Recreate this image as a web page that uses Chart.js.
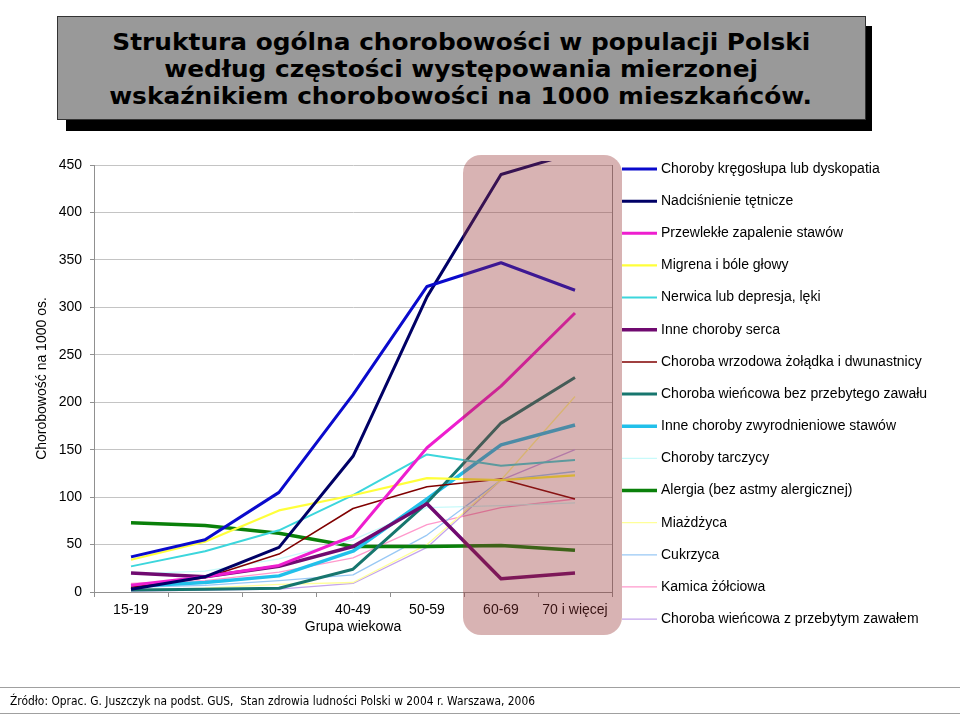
<!DOCTYPE html>
<html><head><meta charset="utf-8">
<script src="https://cdn.jsdelivr.net/npm/chart.js@4"></script>
<style>
html,body{margin:0;padding:0;background:#fff;}
#wrap{position:relative;width:960px;height:716px;overflow:hidden;font-family:"Liberation Sans",Arial,sans-serif;}
#c{position:absolute;left:0;top:0;}
#shadow{position:absolute;left:66px;top:26px;width:806px;height:105px;background:#000;}
#tbox{position:absolute;left:57px;top:16px;width:807px;height:102px;background:#999;border:1px solid #333;}
.tl{position:absolute;left:0;width:922px;text-align:center;white-space:nowrap;height:27px;line-height:27px;}
.tl span{display:inline-block;font:bold 23px "DejaVu Sans";color:#000;transform-origin:50% 50%;}
#foot{position:absolute;left:10px;top:692px;white-space:nowrap;line-height:16px;}
#foot span{display:inline-block;font:12px "DejaVu Sans";color:#000;transform-origin:0 50%;}
.hl{position:absolute;left:0;width:960px;height:1px;background:#a0a0a0;}
</style></head>
<body><div id="wrap">
<div id="shadow"></div>
<div id="tbox"></div>
<div class="tl" style="top:29px"><span class="fit" data-w="698">Struktura ogólna chorobowości w populacji Polski</span></div>
<div class="tl" style="top:56px"><span class="fit2">według częstości występowania mierzonej</span></div>
<div class="tl" style="top:83px"><span class="fit2">wskaźnikiem chorobowości na 1000 mieszkańców.</span></div>
<canvas id="c" width="960" height="716"></canvas>
<div class="hl" style="top:687px"></div>
<div id="foot"><span class="fitf" data-w="525">Źródło: Oprac. G. Juszczyk na podst. GUS,&nbsp; Stan zdrowia ludności Polski w 2004 r. Warszawa, 2006</span></div>
<div class="hl" style="top:713px"></div>
</div>
<script>
// ---- data ----
const categories = ['15-19','20-29','30-39','40-49','50-59','60-69','70 i więcej'];
const seriesLabels = [
  'Choroby kręgosłupa lub dyskopatia',
  'Nadciśnienie tętnicze',
  'Przewlekłe zapalenie stawów',
  'Migrena i bóle głowy',
  'Nerwica lub depresja, lęki',
  'Inne choroby serca',
  'Choroba wrzodowa żołądka i dwunastnicy',
  'Choroba wieńcowa bez przebytego zawału',
  'Inne choroby zwyrodnieniowe stawów',
  'Choroby tarczycy',
  'Alergia (bez astmy alergicznej)',
  'Miażdżyca',
  'Cukrzyca',
  'Kamica żółciowa',
  'Choroba wieńcowa z przebytym zawałem'
];
const kregoslup      = [37, 55, 105, 208, 322, 347, 318];
const nadcisnienie   = [3, 16, 47, 143, 311, 440, 463];
const przewlekle     = [7, 16, 28, 59, 152, 217, 294];
const migrena        = [34, 53, 86, 102, 120, 118, 123];
const nerwica        = [27, 43, 65, 102, 145, 133, 139];
const inneSerca      = [20, 16, 27, 48, 93, 14, 20];
const wrzodowa       = [5, 15, 40, 88, 111, 119, 98];
const wiencowaBez    = [2, 3, 4, 24, 94, 178, 226];
const zwyrodnieniowe = [6, 10, 17, 43, 98, 155, 176];
const tarczyca       = [19, 22, 35, 55, 89, 91, 94];
const alergia        = [73, 70, 62, 48, 48, 49, 44];
const miazdzyca      = [2, 4, 8, 10, 50, 118, 206];
const cukrzyca       = [5, 7, 12, 18, 60, 118, 127];
const kamica         = [9, 12, 21, 36, 71, 89, 98];
const wiencowaZ      = [1, 2, 3, 9, 47, 118, 150];
const seriesValues = [kregoslup, nadcisnienie, przewlekle, migrena, nerwica, inneSerca, wrzodowa,
  wiencowaBez, zwyrodnieniowe, tarczyca, alergia, miazdzyca, cukrzyca, kamica, wiencowaZ];
const yTicks = [0, 50, 100, 150, 200, 250, 300, 350, 400, 450];

// ---- styles ----
const seriesColors = ['#0a0acc','#000066','#ee1ecf','#ffff3a','#3cd6dc','#700a70','#800000',
  '#17766e','#22c0ea','#c8fafa','#0a800a','#ffff99','#99c8f5','#ff99cc','#c4a4ec'];
const seriesWidths = [3,3,3,2.2,2,3.5,1.5,3,3.5,1.3,3.5,1.3,1.3,1.3,1.3];

const FONT = '"Liberation Sans", Arial, sans-serif';

const boxPlugin = {
  id: 'ageBox',
  afterDatasetsDraw(chart) {
    const ctx = chart.ctx, a = chart.chartArea, x = chart.scales.x;
    ctx.save();
    ctx.strokeStyle = '#909090'; ctx.lineWidth = 1;
    ctx.beginPath(); ctx.moveTo(Math.round(a.right) + 0.5, a.top); ctx.lineTo(Math.round(a.right) + 0.5, a.bottom); ctx.stroke();
    const left = (x.getPixelForValue(4) + x.getPixelForValue(5)) / 2 - 1;
    const right = a.right + 10, top = a.top - 10, bottom = a.bottom + 43;
    ctx.fillStyle = 'rgba(150,50,50,0.37)';
    ctx.beginPath();
    ctx.roundRect(left, top, right - left, bottom - top, 18);
    ctx.fill();
    ctx.restore();
  },
  afterDraw(chart) {
    const ctx = chart.ctx;
    ctx.save();
    ctx.font = '14px ' + FONT;
    ctx.textBaseline = 'middle';
    chart.data.datasets.forEach((ds, i) => {
      const y = 169 + i * 32.15;
      ctx.strokeStyle = ds.borderColor; ctx.lineWidth = ds.borderWidth;
      ctx.beginPath(); ctx.moveTo(622, y); ctx.lineTo(657, y); ctx.stroke();
      ctx.fillStyle = '#000';
      ctx.fillText(ds.label, 661, y);
    });
    ctx.restore();
  }
};

new Chart(document.getElementById('c'), {
  type: 'line',
  data: {
    labels: categories,
    datasets: seriesLabels.map((lab, i) => ({
      label: lab,
      data: seriesValues[i],
      borderColor: seriesColors[i],
      backgroundColor: seriesColors[i],
      borderWidth: seriesWidths[i],
      pointRadius: 0,
      tension: 0,
      fill: false,
      clip: {left: 5, top: 4, right: 5, bottom: 5}
    }))
  },
  options: {
    responsive: false, animation: false, devicePixelRatio: 1,
    layout: {padding: {left: 0, top: 165, right: 348, bottom: 0}},
    plugins: {legend: {display: false}, tooltip: {enabled: false}},
    elements: {line: {borderJoinStyle: 'round', borderCapStyle: 'butt'}},
    scales: {
      x: {
        type: 'category', offset: true,
        grid: {offset: true, drawOnChartArea: false, drawTicks: true, tickLength: 5, color: '#909090'},
        border: {color: '#909090'},
        ticks: {font: {family: FONT, size: 14}, color: '#000', padding: 5, maxRotation: 0, autoSkip: false},
        title: {display: true, text: 'Grupa wiekowa', font: {family: FONT, size: 14}, color: '#000', padding: {top: 0, bottom: 80}},
        afterFit(s) { s.height = 124; }
      },
      y: {
        min: 0, max: 450,
        afterBuildTicks(s) { s.ticks = yTicks.map(v => ({value: v})); },
        ticks: {font: {family: FONT, size: 14}, color: '#000', padding: 8},
        grid: {color: '#c4c4c4', tickLength: 4, tickColor: '#909090'},
        border: {color: '#909090'},
        title: {display: true, text: 'Chorobowość na 1000 os.', font: {family: FONT, size: 14}, color: '#000', padding: {top: 34, bottom: 0}},
        afterFit(s) { s.width = 94; }
      }
    }
  },
  plugins: [boxPlugin]
});

// fit title / footer text widths
const t1 = document.querySelector('.fit');
const k = 698 / t1.getBoundingClientRect().width;
t1.style.transform = 'scaleX(' + k + ')';
document.querySelectorAll('.fit2').forEach(el => el.style.transform = 'scaleX(' + k + ')');
const f = document.querySelector('.fitf');
f.style.transform = 'scaleX(' + (525 / f.getBoundingClientRect().width) + ')';
</script>
</body></html>
